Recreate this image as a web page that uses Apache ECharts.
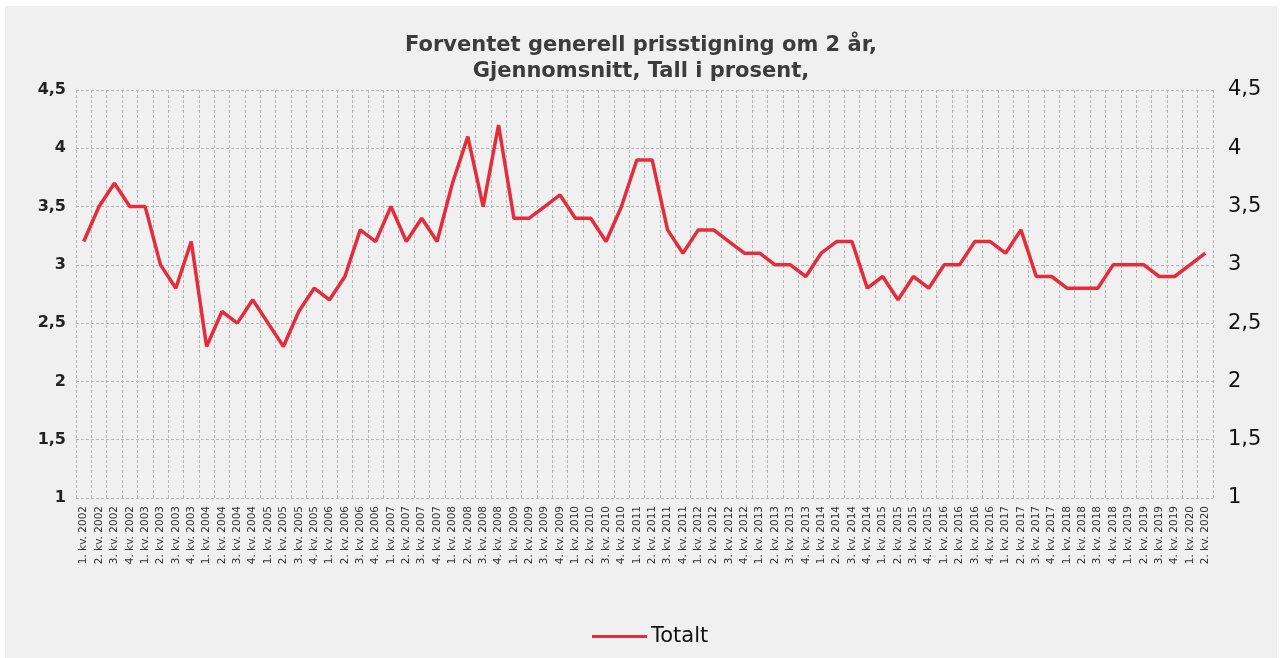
<!DOCTYPE html>
<html>
<head>
<meta charset="utf-8">
<script src="https://cdn.jsdelivr.net/npm/echarts@6/dist/echarts.min.js"></script>
<style>
  html, body { margin: 0; padding: 0; background: #ffffff; overflow: hidden; }
  #chart { position: absolute; left: 5px; top: 6px; width: 1272px; height: 652px; }
</style>
</head>
<body>
<div id="chart"></div>
<script>
// kvartaler 2002 - 2020
var years = [];
for (var y = 2002; y <= 2020; y++) years.push(y);

var categories = [];
years.forEach(function (yr) {
    for (var q = 1; q <= 4; q++) {
        if (yr === 2020 && q > 2) break;
        categories.push(q + '. kv. ' + yr);
    }
});

// Totalt, forventet prisstigning om 2 år (prosent)
var totalt = [
    3.2, 3.5, 3.7, 3.5,   // 2002
    3.5, 3.0, 2.8, 3.2,   // 2003
    2.3, 2.6, 2.5, 2.7,   // 2004
    2.5, 2.3, 2.6, 2.8,   // 2005
    2.7, 2.9, 3.3, 3.2,   // 2006
    3.5, 3.2, 3.4, 3.2,   // 2007
    3.7, 4.1, 3.5, 4.2,   // 2008
    3.4, 3.4, 3.5, 3.6,   // 2009
    3.4, 3.4, 3.2, 3.5,   // 2010
    3.9, 3.9, 3.3, 3.1,   // 2011
    3.3, 3.3, 3.2, 3.1,   // 2012
    3.1, 3.0, 3.0, 2.9,   // 2013
    3.1, 3.2, 3.2, 2.8,   // 2014
    2.9, 2.7, 2.9, 2.8,   // 2015
    3.0, 3.0, 3.2, 3.2,   // 2016
    3.1, 3.3, 2.9, 2.9,   // 2017
    2.8, 2.8, 2.8, 3.0,   // 2018
    3.0, 3.0, 2.9, 2.9,   // 2019
    3.0, 3.1              // 2020
];

var yTicks = { min: 1, max: 4.5, step: 0.5 };

function komma(v) {
    return String(v).replace('.', ',');
}

var chart = echarts.init(document.getElementById('chart'));

var option = {
    backgroundColor: '#f0f0f0',
    animation: false,
    title: {
        text: 'Forventet generell prisstigning om 2 år,\nGjennomsnitt, Tall i prosent,',
        left: 'center',
        top: 22,
        textStyle: {
            fontFamily: 'DejaVu Sans',
            fontSize: 21,
            fontWeight: 'bold',
            color: '#3c3c3c',
            lineHeight: 26
        }
    },
    legend: {
        data: ['Totalt'],
        left: 582,
        top: 615,
        icon: 'rect',
        itemWidth: 55,
        itemHeight: 3,
        itemGap: 4,
        textStyle: {
            fontFamily: 'DejaVu Sans',
            fontSize: 21,
            color: '#111',
            padding: [0, 0, 0, -1]
        }
    },
    grid: {
        left: 71,
        right: 64,
        top: 84,
        bottom: 160
    },
    xAxis: {
        type: 'category',
        data: categories,
        boundaryGap: true,
        axisLine: { show: false },
        axisTick: { show: false },
        axisLabel: {
            interval: 0,
            rotate: 90,
            margin: 8,
            fontFamily: 'DejaVu Sans',
            fontSize: 10.5,
            color: '#333'
        },
        splitLine: {
            show: true,
            interval: 0,
            lineStyle: { color: '#b8b8b8', type: [3, 2], width: 1 }
        }
    },
    yAxis: [{
        type: 'value',
        min: yTicks.min,
        max: yTicks.max,
        interval: yTicks.step,
        position: 'left',
        axisLine: { show: false },
        axisTick: { show: false },
        axisLabel: {
            margin: 10,
            fontFamily: 'DejaVu Sans',
            fontSize: 16,
            fontWeight: 'bold',
            color: '#222',
            padding: [0, 0, 6, 0],
            formatter: komma
        },
        splitLine: {
            lineStyle: { color: '#b8b8b8', type: [3, 2], width: 1 }
        }
    }, {
        type: 'value',
        min: yTicks.min,
        max: yTicks.max,
        interval: yTicks.step,
        position: 'right',
        axisLine: { show: false },
        axisTick: { show: false },
        splitLine: { show: false },
        axisLabel: {
            margin: 15,
            fontFamily: 'DejaVu Sans',
            fontSize: 21,
            color: '#111',
            formatter: komma
        }
    }],
    series: [{
        name: 'Totalt',
        type: 'line',
        data: totalt,
        symbol: 'none',
        lineStyle: { color: '#e32d3c', width: 3.5 },
        itemStyle: { color: '#e32d3c' }
    }]
};

chart.setOption(option);
</script>
</body>
</html>
